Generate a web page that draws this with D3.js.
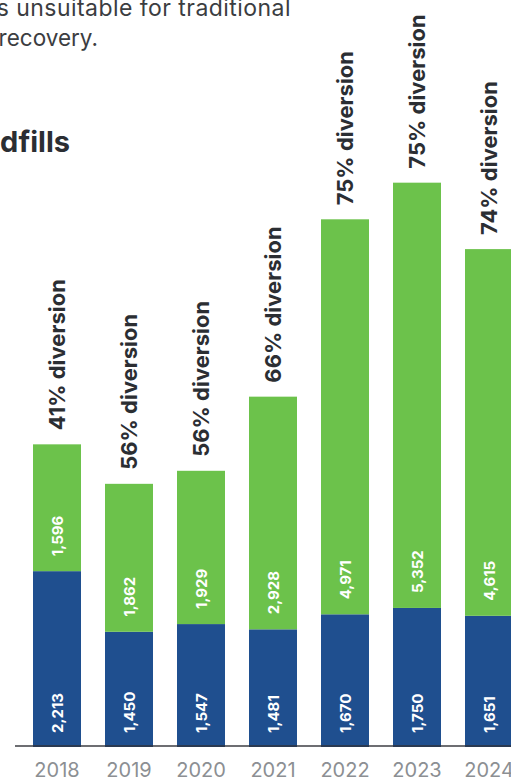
<!DOCTYPE html>
<html>
<head>
<meta charset="utf-8">
<script src="https://cdn.jsdelivr.net/npm/d3@7"></script>
<style>
  html, body { margin: 0; padding: 0; background: #fff; overflow: hidden; }
  svg { display: block; font-family: Inter, "Noto Sans", sans-serif; }
</style>
</head>
<body>
<svg id="chart" width="511" height="780"></svg>
<script>
const years = ["2018", "2019", "2020", "2021", "2022", "2023", "2024"];
const landfilled = [2213, 1450, 1547, 1481, 1670, 1750, 1651];
const diverted = [1596, 1862, 1929, 2928, 4971, 5352, 4615];
const diversionLabels = ["41% diversion", "56% diversion", "56% diversion", "66% diversion", "75% diversion", "75% diversion", "74% diversion"];
const introLines = ["s unsuitable for traditional", "recovery."];
const titleFragment = "dfills";

const W = 511, H = 780;
const BLUE = "#1f4f8f", GREEN = "#6cc24b", DARK = "#2b2e33";
const svg = d3.select("#chart");

// intro text fragments (cropped paragraph and title)
svg.append("text").attr("x", 291).attr("y", 16).attr("text-anchor", "end")
  .attr("font-size", 23).attr("letter-spacing", 0.45).attr("fill", "#3b3d41").text(introLines[0]);
svg.append("text").attr("x", 98).attr("y", 46).attr("text-anchor", "end")
  .attr("font-size", 22.5).attr("fill", "#3b3d41").text(introLines[1]);
svg.append("text").attr("x", 70).attr("y", 152).attr("text-anchor", "end")
  .attr("font-size", 29).attr("font-weight", 700).attr("fill", DARK).text(titleFragment);

const x = d3.scaleBand().domain(years).range([9, 537]).paddingInner(1/3).paddingOuter(1/3);
const y = d3.scaleLinear().domain([0, 8000]).range([747, 747 - 8000 * 0.07946]);

const data = years.map((yr, i) => ({ yr, low: landfilled[i], high: diverted[i], label: diversionLabels[i] }));

const g = svg.append("g");
// landfilled (blue)
g.selectAll("rect.low").data(data).join("rect").attr("class", "low")
  .attr("x", d => x(d.yr)).attr("width", x.bandwidth())
  .attr("y", d => y(d.low)).attr("height", d => y(0) - y(d.low))
  .attr("fill", BLUE);
// diverted (green)
g.selectAll("rect.high").data(data).join("rect").attr("class", "high")
  .attr("x", d => x(d.yr)).attr("width", x.bandwidth())
  .attr("y", d => y(d.low + d.high)).attr("height", d => y(d.low) - y(d.low + d.high))
  .attr("fill", GREEN);

const fmt = d3.format(",");
const cx = d => x(d.yr) + x.bandwidth() / 2;

// value labels
g.selectAll("text.vlow").data(data).join("text").attr("class", "vlow")
  .attr("transform", d => `translate(${cx(d) + 6},${y(0) - 14}) rotate(-90)`)
  .attr("font-size", 15).attr("font-weight", 700).attr("fill", "#fff")
  .text(d => fmt(d.low));
g.selectAll("text.vhigh").data(data).join("text").attr("class", "vhigh")
  .attr("transform", d => `translate(${cx(d) + 6},${y(d.low) - 15}) rotate(-90)`)
  .attr("font-size", 15).attr("font-weight", 700).attr("fill", "#fff")
  .text(d => fmt(d.high));

// diversion labels
g.selectAll("text.div").data(data).join("text").attr("class", "div")
  .attr("transform", d => `translate(${cx(d) + 8},${y(d.low + d.high) - 14}) rotate(-90)`)
  .attr("font-size", 22).attr("font-weight", 700).attr("fill", DARK)
  .text(d => d.label);

// x axis
const axis = svg.append("g").attr("transform", `translate(0,746)`)
  .call(d3.axisBottom(x).tickSize(0).tickPadding(0));
axis.select(".domain").remove();
axis.append("line").attr("x1", 15).attr("x2", W).attr("y1", 0).attr("y2", 0)
  .attr("stroke", "#2f3136").attr("stroke-opacity", 0.7).attr("stroke-width", 2);
axis.selectAll(".tick text").attr("y", 31).attr("dy", null)
  .attr("font-family", "Inter, sans-serif").attr("font-size", 20).attr("fill", "#8c8f93");
</script>
</body>
</html>
